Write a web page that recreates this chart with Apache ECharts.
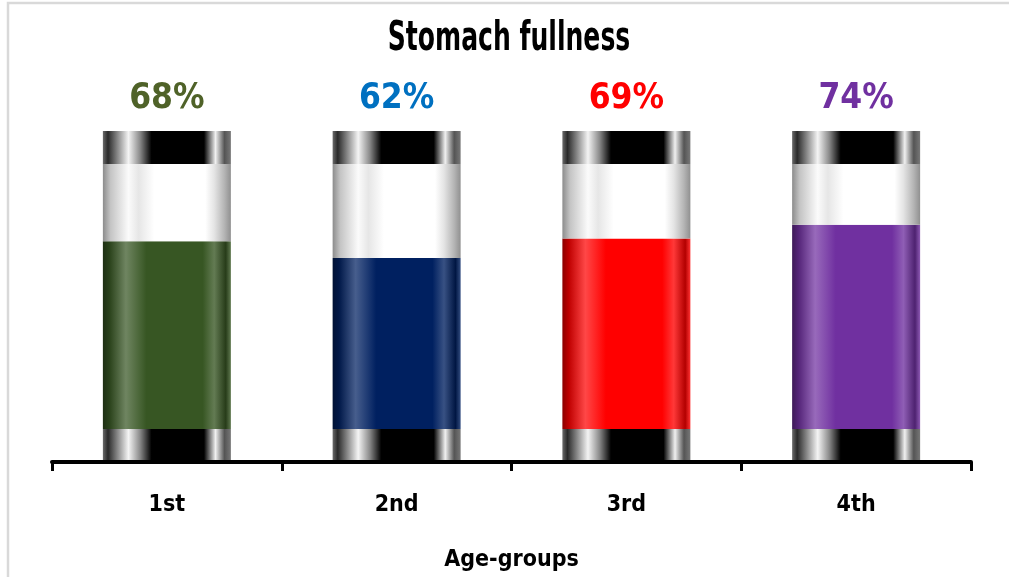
<!DOCTYPE html>
<html>
<head>
<meta charset="utf-8">
<script src="https://cdn.jsdelivr.net/npm/echarts@6/dist/echarts.min.js"></script>
<style>
  html, body { margin: 0; padding: 0; background: #ffffff; }
  #chart { width: 1009px; height: 577px; }
</style>
</head>
<body>
<div id="chart"></div>
<script>
// Age groups and stomach fullness (%)
const categories = ['1st', '2nd', '3rd', '4th'];
const fullness = [68, 62, 69, 74];
const fillColors = ['#375623', '#002060', '#ff0000', '#7030a0'];
const labelColors = ['#4f6228', '#0070c0', '#ff0000', '#7030a0'];

// Tube geometry, in the same units as the values
const capHeight = 12;     // black rings at the top and bottom of each tube
const tubeCapacity = 96;  // glass section above the bottom ring

const FONT = "'Liberation Sans Narrow', 'DejaVu Sans Condensed', 'Arial Narrow', sans-serif";

function mix(hex, target, t) {
  const n = parseInt(hex.slice(1), 16);
  const r = (n >> 16) & 255, g = (n >> 8) & 255, b = n & 255;
  const c = v => Math.round(v + (target - v) * t);
  return 'rgb(' + c(r) + ',' + c(g) + ',' + c(b) + ')';
}

function hGrad(stops) {
  return new echarts.graphic.LinearGradient(0, 0, 1, 0,
    stops.map(s => ({ offset: s[0], color: s[1] })));
}

// Cylindrical shading for the liquid
function liquid(base) {
  return hGrad([
    [0, mix(base, 0, 0.45)],
    [0.05, mix(base, 0, 0.25)],
    [0.18, mix(base, 255, 0.28)],
    [0.34, base],
    [0.78, base],
    [0.87, mix(base, 255, 0.22)],
    [0.96, mix(base, 0, 0.3)],
    [1, mix(base, 255, 0.2)]
  ]);
}

const ringStyle = hGrad([
  [0, '#6a6a6a'], [0.04, '#2a2a2a'], [0.2, '#f4f4f4'], [0.29, '#8a8a8a'],
  [0.38, '#000000'], [0.79, '#000000'], [0.88, '#f0f0f0'], [0.95, '#555555'], [1, '#777777']
]);

const glassStyle = hGrad([
  [0, '#8c8c8c'], [0.06, '#c4c4c4'], [0.2, '#fbfbfb'], [0.28, '#e6e6e6'],
  [0.4, '#ffffff'], [0.8, '#ffffff'], [0.87, '#e4e4e4'], [0.95, '#b4b4b4'], [1, '#909090']
]);

const chart = echarts.init(document.getElementById('chart'), null, { renderer: 'canvas' });

const option = {
  animation: false,
  backgroundColor: '#ffffff',
  graphic: [
    {
      type: 'rect',
      silent: true,
      shape: { x: 8, y: 3, width: 1100, height: 700 },
      style: { fill: 'none', stroke: '#d9d9d9', lineWidth: 2.5 }
    },
    {
      // condensed title
      type: 'text',
      silent: true,
      x: 509, y: 39,
      scaleX: 0.68,
      style: {
        text: 'Stomach fullness',
        fontFamily: FONT, fontSize: 41, fontWeight: 'bold',
        fill: '#000000', align: 'center', verticalAlign: 'middle'
      }
    }
  ],
  grid: { left: 52, right: 38, top: 131, bottom: 114 },
  xAxis: {
    type: 'category',
    data: categories,
    name: 'Age-groups',
    nameLocation: 'middle',
    nameGap: 87,
    nameTextStyle: { fontFamily: FONT, fontSize: 23, fontWeight: 'bold', color: '#000000' },
    axisLine: { lineStyle: { color: '#000000', width: 4 } },
    axisTick: { show: true, alignWithLabel: false, length: 9, lineStyle: { color: '#000000', width: 3 } },
    axisLabel: { margin: 32, fontFamily: FONT, fontSize: 23, fontWeight: 'bold', color: '#000000' },
    z: 10
  },
  yAxis: { type: 'value', min: 0, max: 120, show: false },
  series: [
    {
      name: 'bottom ring', type: 'bar', stack: 'tube', barWidth: 128,
      data: categories.map(() => capHeight),
      itemStyle: { color: ringStyle }
    },
    {
      name: 'fullness', type: 'bar', stack: 'tube', barWidth: 128,
      data: fullness.map((v, i) => ({ value: v, itemStyle: { color: liquid(fillColors[i]) } }))
    },
    {
      name: 'glass', type: 'bar', stack: 'tube', barWidth: 128,
      data: fullness.map(v => tubeCapacity - v),
      itemStyle: { color: glassStyle }
    },
    {
      name: 'top ring', type: 'bar', stack: 'tube', barWidth: 128,
      data: fullness.map((v, i) => ({
        value: capHeight,
        label: {
          show: true,
          position: 'top',
          distance: 15,
          formatter: v + '%',
          color: labelColors[i],
          fontFamily: FONT,
          fontSize: 35,
          fontWeight: 'bold'
        }
      })),
      itemStyle: { color: ringStyle }
    }
  ]
};

chart.setOption(option);
</script>
</body>
</html>
